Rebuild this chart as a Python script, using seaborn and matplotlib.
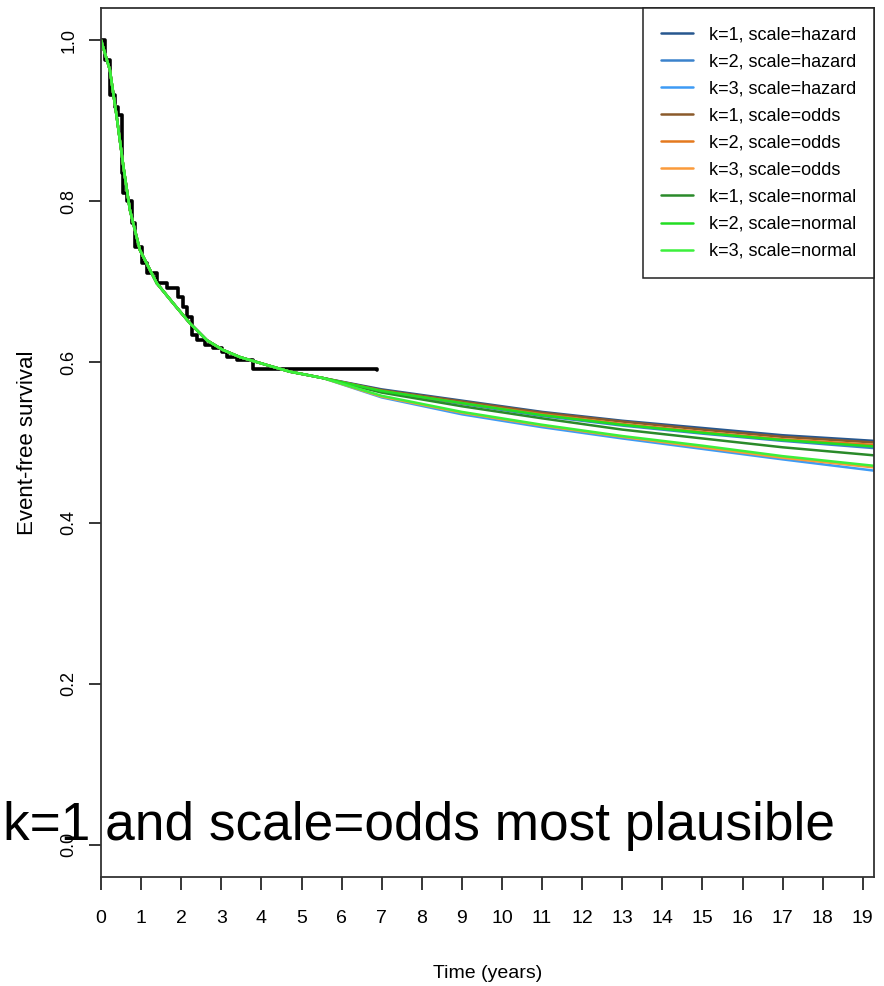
import matplotlib
matplotlib.use("Agg")
import matplotlib.pyplot as plt
import numpy as np
import pandas as pd
import seaborn as sns

## Data ##
# Kaplan-Meier estimate (black step curve)
km_time = [0, 0.1, 0.22, 0.35, 0.42, 0.52, 0.55, 0.64, 0.77, 0.85, 1.01, 1.14, 1.39,
           1.64, 1.92, 2.04, 2.14, 2.26, 2.39, 2.59, 2.79, 3.01, 3.13, 3.38, 3.79, 6.88]
km_surv = [1.0, 0.975, 0.932, 0.917, 0.907, 0.835, 0.81, 0.80, 0.773, 0.743, 0.723, 0.711,
           0.698, 0.692, 0.681, 0.668, 0.656, 0.634, 0.627, 0.621, 0.617, 0.612, 0.606,
           0.602, 0.591, 0.590]

# fitted spline models: common early part, then each model's own tail
early_time = [0, 0.22, 0.39, 0.56, 0.72, 0.97, 1.39, 1.8, 2.22, 2.64, 3.04, 3.47,
              3.88, 4.29, 4.71, 5.13, 5.54]
early_surv = [1.0, 0.963, 0.905, 0.842, 0.789, 0.739, 0.698, 0.673, 0.648, 0.627, 0.615,
              0.606, 0.600, 0.594, 0.588, 0.584, 0.580]
tail_time = [7, 9, 11, 13, 15, 17, 19.28]

model_labels = ["k=1, scale=hazard", "k=2, scale=hazard", "k=3, scale=hazard",
                "k=1, scale=odds", "k=2, scale=odds", "k=3, scale=odds",
                "k=1, scale=normal", "k=2, scale=normal", "k=3, scale=normal"]
tail_k1_hazard = [0.566, 0.552, 0.538, 0.527, 0.518, 0.509, 0.502]
tail_k2_hazard = [0.563, 0.548, 0.533, 0.521, 0.511, 0.502, 0.493]
tail_k3_hazard = [0.556, 0.535, 0.519, 0.505, 0.492, 0.479, 0.465]
tail_k1_odds = [0.565, 0.551, 0.537, 0.526, 0.516, 0.507, 0.500]
tail_k2_odds = [0.564, 0.549, 0.535, 0.523, 0.513, 0.504, 0.497]
tail_k3_odds = [0.557, 0.537, 0.521, 0.507, 0.494, 0.481, 0.469]
tail_k1_normal = [0.562, 0.545, 0.530, 0.516, 0.505, 0.494, 0.484]
tail_k2_normal = [0.564, 0.549, 0.534, 0.522, 0.512, 0.503, 0.495]
tail_k3_normal = [0.558, 0.538, 0.522, 0.508, 0.496, 0.483, 0.471]
tails = [tail_k1_hazard, tail_k2_hazard, tail_k3_hazard,
         tail_k1_odds, tail_k2_odds, tail_k3_odds,
         tail_k1_normal, tail_k2_normal, tail_k3_normal]

model_colors = ["#27578f", "#3b82cc", "#3d9bf5",
                "#8b5a2b", "#e4791e", "#fb9a3a",
                "#2a8a2a", "#22dd22", "#3cf03c"]

x_ticks = list(range(0, 20))
y_ticks = [0.0, 0.2, 0.4, 0.6, 0.8, 1.0]

## Build long table for seaborn ##
rows = []
for lab, tail in zip(model_labels, tails):
    for t, s in zip(early_time + tail_time, early_surv + tail):
        rows.append({"time": t, "surv": s, "model": lab})
df_models = pd.DataFrame(rows)
df_km = pd.DataFrame({"time": km_time, "surv": km_surv})

## Plot ##
sns.set_style("ticks")
plt.rcParams["font.family"] = ["Liberation Sans", "DejaVu Sans"]
plt.rcParams["text.color"] = "black"
plt.rcParams["axes.labelcolor"] = "black"
plt.rcParams["xtick.color"] = "black"
plt.rcParams["ytick.color"] = "black"

fig = plt.figure(figsize=(8.84, 9.86), dpi=100)
ax = fig.add_axes([0.1143, 0.1106, 0.8744, 0.8813])

sns.lineplot(data=df_km, x="time", y="surv", color="black", lw=2.6,
             drawstyle="steps-post", estimator=None, sort=False, ax=ax)
sns.lineplot(data=df_models, x="time", y="surv", hue="model", hue_order=model_labels,
             palette=model_colors, lw=1.8, estimator=None, sort=False, ax=ax)

ax.set_xlim(0, 19.28)
ax.set_ylim(-0.04, 1.04)
ax.set_xticks(x_ticks)
ax.set_xticklabels([str(v) for v in x_ticks], fontsize=14)
ax.set_yticks(y_ticks)
ax.set_yticklabels(["{:.1f}".format(v) for v in y_ticks], fontsize=13, rotation=90,
                   va="center")
ax.tick_params(axis="both", direction="out", length=9, width=1.1)
ax.tick_params(axis="x", pad=15)
ax.tick_params(axis="y", pad=8)

for sp in ax.spines.values():
    sp.set_visible(True)
    sp.set_color("#333333")
    sp.set_linewidth(1.3)

ax.set_xlabel("Time (years)", fontsize=14, labelpad=27)
ax.set_ylabel("Event-free survival", fontsize=16, labelpad=16)

handles, labels = ax.get_legend_handles_labels()
leg = ax.legend(handles, labels, loc="upper right", borderaxespad=0, fontsize=13,
                handlelength=1.8, handletextpad=0.85, labelspacing=0.56,
                borderpad=1.0, fancybox=False, framealpha=1, edgecolor="#222222")
leg.get_frame().set_linewidth(1.1)

fig.text(0.003, 1 - 840 / 986, "k=1 and scale=odds most plausible", fontsize=38.3,
         va="baseline", ha="left")

fig.savefig("out.png", dpi=100)
